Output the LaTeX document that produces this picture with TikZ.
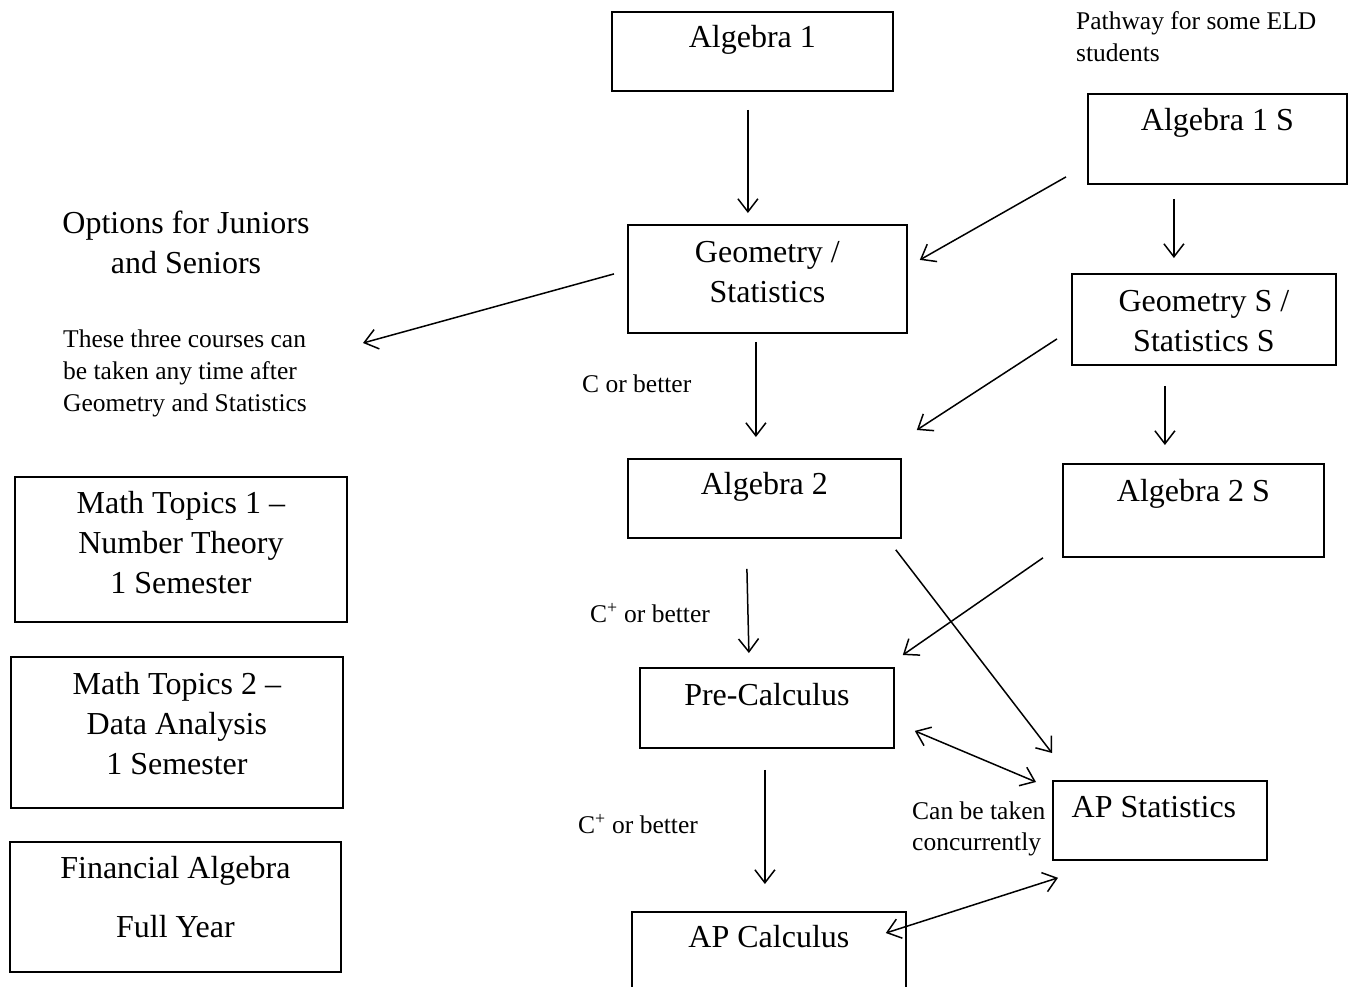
\documentclass[tikz,border=0pt]{standalone}
\usepackage{fontspec}
\setmainfont{Liberation Serif}
\usetikzlibrary{arrows.meta}
\begin{document}
\begin{tikzpicture}[x=1pt,y=-1pt,
  box/.style={draw, line width=1.8pt, rectangle, inner sep=0pt, anchor=north west},
  big/.style={font=\fontsize{32}{40}\selectfont, inner sep=0pt, align=center, anchor=north},
  small/.style={font=\fontsize{25.5}{32}\selectfont, inner sep=0pt, align=left, anchor=north west},
  arr/.style={line width=1.5pt, -{Straight Barb[length=13pt,width=20pt]}},
  darr/.style={line width=1.5pt, {Straight Barb[length=13pt,width=20pt]}-{Straight Barb[length=13pt,width=20pt]}}]
\useasboundingbox (0,0) rectangle (1348,986);
\clip (0,0) rectangle (1348,986);
\fill[white] (0,0) rectangle (1348,986);

% boxes
\node[box, minimum width=281pt, minimum height=79pt] (alg1) at (611,11) {};
\node[box, minimum width=259pt, minimum height=90pt] (alg1s) at (1087,93) {};
\node[box, minimum width=279pt, minimum height=108pt] (geo) at (627,224) {};
\node[box, minimum width=264pt, minimum height=91pt] (geos) at (1071,273) {};
\node[box, minimum width=273pt, minimum height=79pt] (alg2) at (627,458) {};
\node[box, minimum width=261pt, minimum height=93pt] (alg2s) at (1062,463) {};
\node[box, minimum width=254pt, minimum height=80pt] (pre) at (639,667) {};
\node[box, minimum width=214pt, minimum height=79pt] (aps) at (1052,780) {};
\node[box, minimum width=274pt, minimum height=100pt] (apc) at (631,911) {};
\node[box, minimum width=332pt, minimum height=145pt] (mt1) at (14,476) {};
\node[box, minimum width=332pt, minimum height=151pt] (mt2) at (10,656) {};
\node[box, minimum width=331pt, minimum height=130pt] (fin) at (9,841) {};

% box texts
\node[big] (alg1t) at ([shift={(0,8)}]alg1.north) {\strut Algebra 1};
\node[big] (alg1st) at ([shift={(0,9)}]alg1s.north) {\strut Algebra 1 S};
\node[big] (geot) at ([shift={(0,10)}]geo.north) {\strut Geometry /\\Statistics};
\node[big] (geost) at ([shift={(0,10)}]geos.north) {\strut Geometry S /\\Statistics S};
\node[big] (alg2t) at ([shift={(0,8)}]alg2.north) {\strut Algebra 2};
\node[big] (alg2st) at ([shift={(0,10)}]alg2s.north) {\strut Algebra 2 S};
\node[big] (pret) at ([shift={(0,10)}]pre.north) {\strut Pre-Calculus};
\node[big] (apst) at ([shift={(-6,9)}]aps.north) {\strut AP Statistics};
\node[big] (apct) at ([shift={(0,8)}]apc.north) {\strut AP Calculus};
\node[big] (mt1t) at ([shift={(0,9)}]mt1.north) {\strut Math Topics 1 \textendash\\Number Theory\\1 Semester};
\node[big] (mt2t) at ([shift={(0,10)}]mt2.north) {\strut Math Topics 2 \textendash\\Data Analysis\\1 Semester};
\node[big] (fint) at ([shift={(0,9)}]fin.north) {\strut Financial Algebra\\[19pt]Full Year};

% free texts
\node[small] (eld) at (1076,6.6) {\strut Pathway for some ELD\\students};
\node[big] (opt) at (186,205) {\strut Options for Juniors\\and Seniors};
\node[small] (three) at (63,324.6) {\strut These three courses can\\be taken any time after\\Geometry and Statistics};
\node[small] (cb1) at (582,369.6) {\strut C or better};
\node[small] (cb2) at (590,599.6) {\strut C\textsuperscript{+} or better};
\node[small] (cb3) at (578,810.6) {\strut C\textsuperscript{+} or better};
\node[small, font=\fontsize{25.5}{31}\selectfont] (conc) at (912,797.3) {\strut Can be taken\\concurrently};

\coordinate (optend) at (363,343);

% connectors
\draw[arr] ([shift={(-4.5,18)}]alg1.south) -- ([shift={(-19.5,-11)}]geo.north);
\draw[arr] ([shift={(-21,38)}]alg1s.west) -- ([shift={(12,-19)}]geo.east);
\draw[arr] ([shift={(-43.5,14)}]alg1s.south) -- ([shift={(-30,-15)}]geos.north);
\draw[arr] ([shift={(-13,-5)}]geo.west) -- (optend);
\draw[arr] ([shift={(-11.5,8)}]geo.south) -- ([shift={(-8.5,-21)}]alg2.north);
\draw[arr] ([shift={(-14,19.5)}]geos.west) -- ([shift={(15,-28)}]alg2.north east);
\draw[arr] ([shift={(-39,20)}]geos.south) -- ([shift={(-28.5,-18)}]alg2s.north);
\draw[arr] ([shift={(-17.5,30)}]alg2.south) -- ([shift={(-18,-14)}]pre.north);
\draw[arr] ([shift={(-19,0)}]alg2s.south west) -- ([shift={(8,-12)}]pre.north east);
\draw[arr] ([shift={(-6,11)}]alg2.south east) -- ([shift={(0,-27)}]aps.north west);
\draw[darr] ([shift={(20,23)}]pre.east) -- ([shift={(-16,2)}]aps.north west);
\draw[arr] ([shift={(-2,21)}]pre.south) -- ([shift={(-4,-27)}]apc.north);
\draw[darr] ([shift={(-21,22)}]apc.north east) -- ([shift={(6,17)}]aps.south west);
\end{tikzpicture}
\end{document}
